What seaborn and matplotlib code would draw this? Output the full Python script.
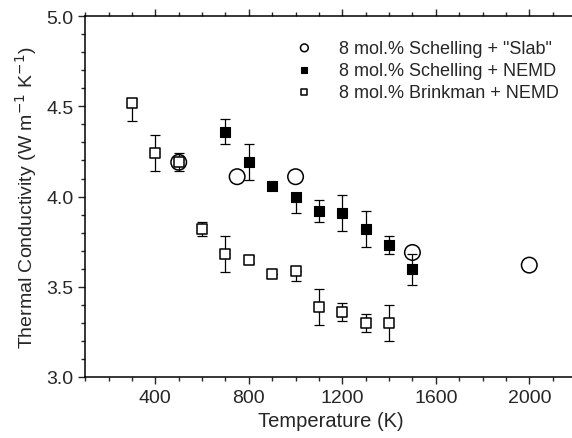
import pandas as pd
import numpy as np
import matplotlib
matplotlib.use('Agg')
import matplotlib.pyplot as plt
from matplotlib.ticker import MultipleLocator, FormatStrFormatter
import seaborn as sns

# 8 mol.% Schelling + "Slab"
slab_T = [500, 750, 1000, 1500, 2000]
slab_k = [4.19, 4.11, 4.11, 3.69, 3.62]

# 8 mol.% Schelling + NEMD
sch_T = [700, 800, 900, 1000, 1100, 1200, 1300, 1400, 1500]
sch_k = [4.36, 4.19, 4.06, 4.00, 3.92, 3.91, 3.82, 3.73, 3.60]
sch_lo = [0.07, 0.10, 0.00, 0.09, 0.06, 0.10, 0.10, 0.05, 0.09]
sch_hi = [0.07, 0.10, 0.00, 0.00, 0.06, 0.10, 0.10, 0.05, 0.08]

# 8 mol.% Brinkman + NEMD
brk_T = [300, 400, 500, 600, 700, 800, 900, 1000, 1100, 1200, 1300, 1400]
brk_k = [4.52, 4.24, 4.19, 3.82, 3.68, 3.65, 3.57, 3.59, 3.39, 3.36, 3.30, 3.30]
brk_lo = [0.10, 0.10, 0.05, 0.04, 0.10, 0.02, 0.00, 0.06, 0.10, 0.05, 0.05, 0.10]
brk_hi = [0.02, 0.10, 0.05, 0.04, 0.10, 0.02, 0.00, 0.00, 0.10, 0.05, 0.05, 0.10]

labels = ['8 mol.% Schelling + "Slab"', '8 mol.% Schelling + NEMD', '8 mol.% Brinkman + NEMD']

df_slab = pd.DataFrame({'T': slab_T, 'k': slab_k})
df_sch = pd.DataFrame({'T': sch_T, 'k': sch_k})
df_brk = pd.DataFrame({'T': brk_T, 'k': brk_k})

sns.set_style('ticks')
plt.rcParams['font.family'] = ['Liberation Sans', 'DejaVu Sans']
plt.rcParams['xtick.direction'] = 'out'
plt.rcParams['ytick.direction'] = 'out'

fig = plt.figure(figsize=(5.72, 4.39), dpi=100)
# axes run a little past the right edge of the picture, as in the reference
ax = fig.add_axes([0.149, 0.139, 0.858, 0.822])

# error bars first
ax.errorbar(sch_T, sch_k, yerr=[sch_lo, sch_hi], fmt='none', ecolor='black',
            elinewidth=0.9, capsize=3.5, capthick=0.9, zorder=1)
ax.errorbar(brk_T, brk_k, yerr=[brk_lo, brk_hi], fmt='none', ecolor='black',
            elinewidth=0.9, capsize=3.5, capthick=0.9, zorder=1)

sns.scatterplot(data=df_slab, x='T', y='k', marker='o', s=125, facecolor='none',
                edgecolor='black', linewidth=1.1, label=labels[0], ax=ax, zorder=3)
sns.scatterplot(data=df_sch, x='T', y='k', marker='s', s=62, color='black',
                edgecolor='black', linewidth=0.8, label=labels[1], ax=ax, zorder=3)
sns.scatterplot(data=df_brk, x='T', y='k', marker='s', s=62, facecolor='white',
                edgecolor='black', linewidth=1.1, label=labels[2], ax=ax, zorder=2)

ax.set_xlim(100, 2200)
ax.set_ylim(3.0, 5.0)
ax.set_xticks([400, 800, 1200, 1600, 2000])
ax.xaxis.set_minor_locator(MultipleLocator(100))
ax.yaxis.set_major_locator(MultipleLocator(0.5))
ax.yaxis.set_minor_locator(MultipleLocator(0.1))
ax.yaxis.set_major_formatter(FormatStrFormatter('%.1f'))

ax.tick_params(which='major', length=5, width=1, labelsize=14, top=True, right=False)
ax.tick_params(which='minor', length=3, width=1, top=True, right=False)
ax.tick_params(axis='x', which='both', labeltop=False)
ax.tick_params(axis='x', which='major', pad=4)
for sp in ax.spines.values():
    sp.set_linewidth(1.1)
    sp.set_color('black')
ax.spines['right'].set_visible(False)

ax.set_xlabel('Temperature (K)', fontsize=14.5, labelpad=3)
ax.set_ylabel('Thermal Conductivity (W m$^{-1}$ K$^{-1}$)', fontsize=14, labelpad=5)

leg = ax.legend(loc='upper left', bbox_to_anchor=(0.395, 0.955), frameon=False,
                fontsize=13, markerscale=0.5, handletextpad=0.9, labelspacing=0.28,
                borderaxespad=0)

fig.savefig('out.png', dpi=100)
